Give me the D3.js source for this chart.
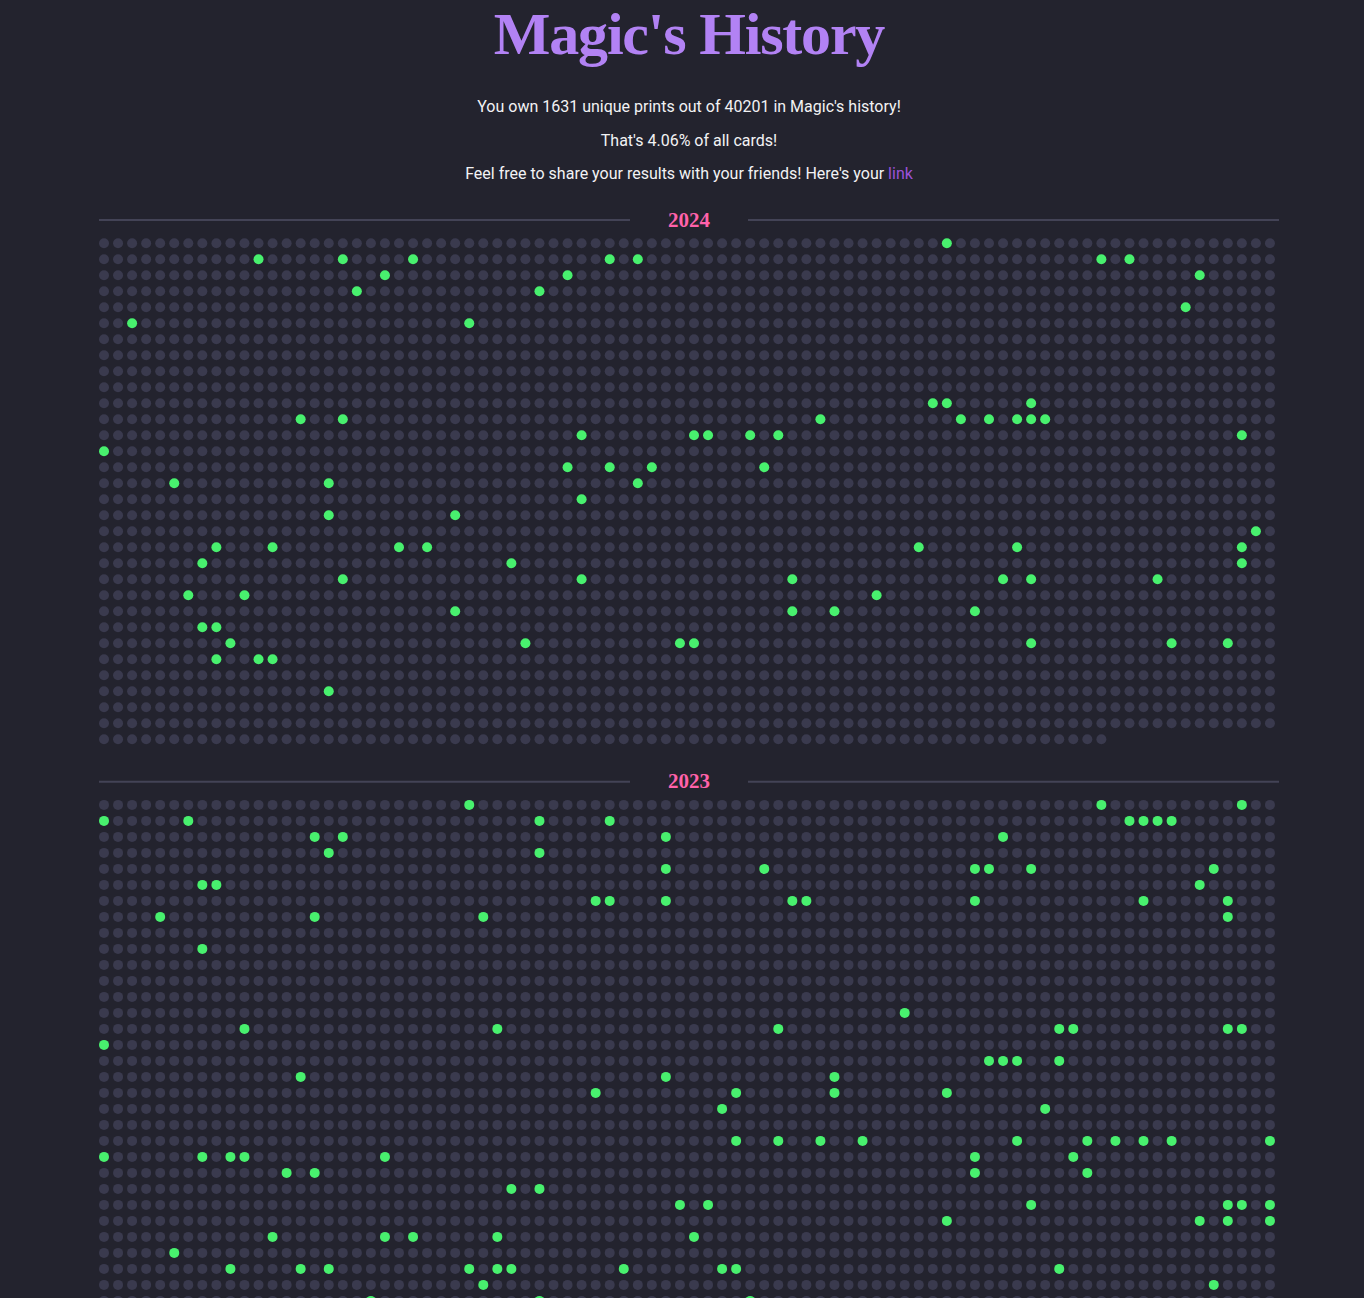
<!DOCTYPE html>
<html><head><meta charset="utf-8">
<script src="https://cdn.jsdelivr.net/npm/d3@7/dist/d3.min.js"></script>
<style>
html,body{margin:0;padding:0;background:#23232e;overflow:hidden;}
svg{display:block;}
</style></head><body>
<svg id="chart"></svg>
<script>
// ---- data ----
const COLS = 84;
const years = ["2024", "2023"];
const setTotals = [2676, 2856];
// owned card indices (position within the year's print list)
const owned2024 = [60, 95, 101, 106, 120, 122, 155, 157, 188, 201, 246, 270, 283, 413, 422, 446,
  899, 900, 906, 938, 941, 975, 985, 987, 989, 990, 991, 1042, 1050, 1051, 1054, 1056, 1089, 1092,
  1209, 1212, 1215, 1223, 1265, 1276, 1298, 1378, 1444, 1453, 1594, 1604, 1608, 1617, 1619, 1654,
  1661, 1677, 1687, 1709, 1761, 1781, 1798, 1813, 1828, 1830, 1839, 1854, 1858, 1903, 1957, 1981,
  1984, 1994, 2023, 2024, 2109, 2130, 2141, 2142, 2166, 2176, 2180, 2192, 2195, 2196, 2368];
const owned2023 = [26, 71, 81, 84, 90, 115, 120, 157, 158, 159, 160, 183, 185, 208, 232, 268, 283,
  376, 383, 398, 399, 402, 415, 427, 428, 498, 539, 540, 544, 553, 554, 566, 578, 584, 592, 603, 615,
  668, 763, 1149, 1186, 1204, 1224, 1244, 1245, 1256, 1257, 1260, 1407, 1408, 1409, 1412, 1442, 1468,
  1480, 1547, 1557, 1564, 1572, 1640, 1663, 1809, 1812, 1815, 1818, 1829, 1834, 1836, 1838, 1840,
  1847, 1848, 1855, 1857, 1858, 1868, 1910, 1917, 1945, 1947, 1994, 2002, 2045, 2047, 2141, 2143,
  2166, 2180, 2181, 2183, 2244, 2262, 2264, 2267, 2280, 2288, 2290, 2296, 2310, 2357, 2445, 2450,
  2452, 2462, 2464, 2465, 2473, 2480, 2481, 2504, 2547, 2599, 2623, 2635, 2650];
const ownedByYear = [owned2024, owned2023];
const uniqueOwned = 1631;
const allPrints = 40201;
const pctOwned = "4.06";

// ---- layout ----
const W = 1364, left = 99, right = 1279, cx0 = 689;
const colors = {bg: "#23232e", empty: "#3a3a4e", owned: "#48f06e", title: "#b282f4",
  year: "#ff62aa", text: "#f2f2f4", link: "#9b52d8", rule: "#434356"};

const svg = d3.select("#chart").attr("width", W);
svg.append("rect").attr("width", W).attr("height", 4000).attr("fill", colors.bg);

svg.append("text").attr("x", cx0).attr("y", 54).attr("text-anchor", "middle")
  .attr("font-family", "'Liberation Serif', 'DejaVu Serif', serif").attr("font-weight", 700)
  .attr("font-size", 60).attr("letter-spacing", "-1.2px").attr("fill", colors.title)
  .text("Magic's History");

const lines = [
  [`You own ${uniqueOwned} unique prints out of ${allPrints} in Magic's history!`],
  [`That's ${pctOwned}% of all cards!`],
  ["Feel free to share your results with your friends! Here's your ", "link"]
];
lines.forEach((l, i) => {
  const t = svg.append("text").attr("x", cx0).attr("y", 112 + i * 33.7)
    .attr("text-anchor", "middle").attr("font-family", "Roboto, sans-serif")
    .attr("font-size", 16).attr("fill", colors.text);
  t.append("tspan").text(l[0]);
  if (l[1]) t.append("tspan").attr("fill", colors.link).text(l[1]);
});

const x = d3.scaleLinear().domain([0, COLS]).range([left, right]);
const rowStep = 16, r = 5;

let ruleY = 220;
years.forEach((yr, s) => {
  const total = setTotals[s];
  const owned = new Set(ownedByYear[s]);
  const nRows = Math.ceil(total / COLS);
  const firstRow = ruleY + 23.2;
  const y = d3.scaleLinear().domain([0, 1]).range([firstRow, firstRow + rowStep]);
  const g = svg.append("g");
  const gap = 59;
  g.append("line").attr("x1", left).attr("x2", cx0 - gap).attr("y1", ruleY).attr("y2", ruleY)
    .attr("stroke", colors.rule).attr("stroke-width", 2);
  g.append("line").attr("x1", cx0 + gap).attr("x2", right).attr("y1", ruleY).attr("y2", ruleY)
    .attr("stroke", colors.rule).attr("stroke-width", 2);
  g.append("text").attr("x", cx0).attr("y", ruleY + 6.5).attr("text-anchor", "middle")
    .attr("font-family", "'Liberation Serif', 'DejaVu Serif', serif").attr("font-weight", 700)
    .attr("font-size", 21).attr("fill", colors.year).text(yr);
  g.selectAll("circle").data(d3.range(total)).join("circle")
    .attr("cx", i => x(i % COLS) + r)
    .attr("cy", i => y(Math.floor(i / COLS)))
    .attr("r", r)
    .attr("fill", i => owned.has(i) ? colors.owned : colors.empty);
  ruleY = firstRow + (nRows - 1) * rowStep + 42.5;
});
svg.attr("height", ruleY + 40);
</script>
</body></html>
